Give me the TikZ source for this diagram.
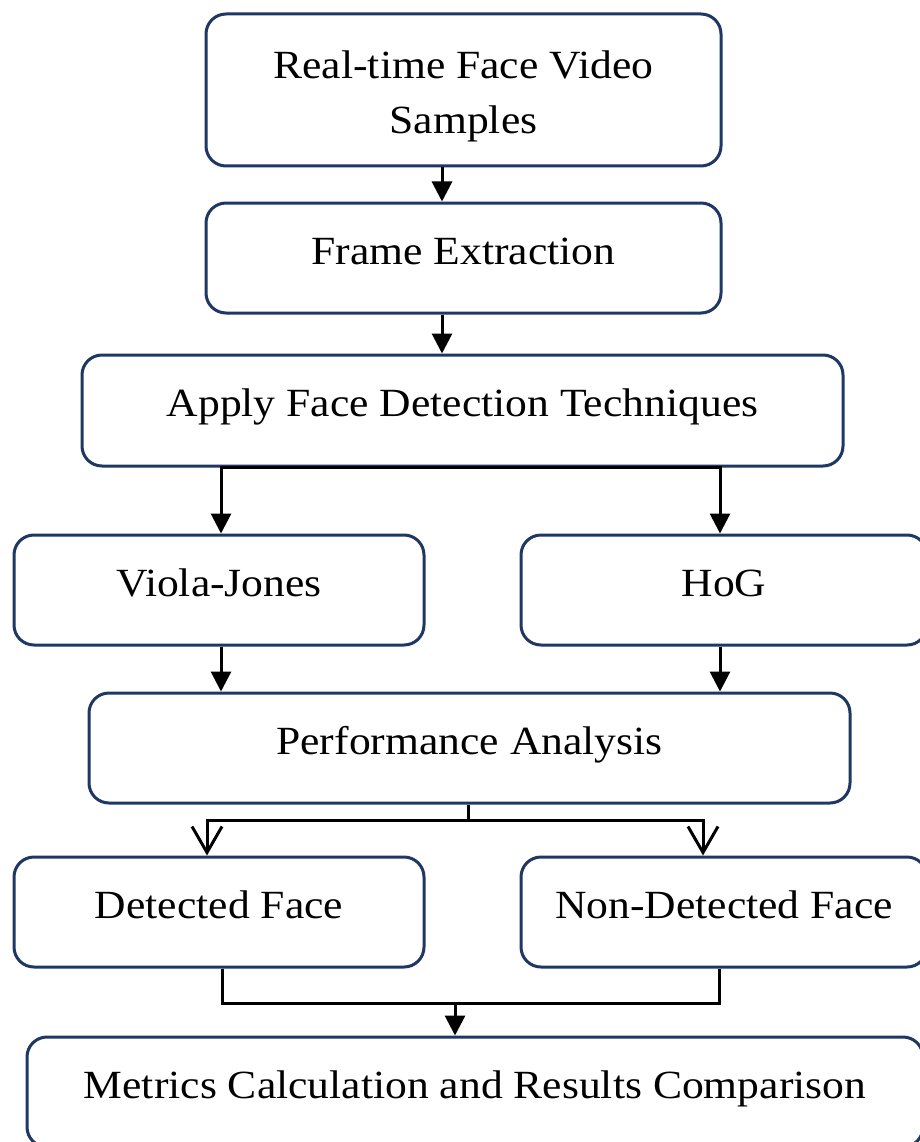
\documentclass[tikz,border=0pt]{standalone}
\usepackage{fontspec}
\setmainfont{Liberation Serif}[FakeStretch=1.09]
\usetikzlibrary{arrows.meta,calc}
\definecolor{boxline}{RGB}{31,55,99}
\begin{document}
\begin{tikzpicture}[x=1pt,y=-1pt,
  stage/.style={draw=boxline, line width=3pt, rounded corners=20pt, fill=white,
    align=center, inner sep=0pt, font=\fontsize{40}{55}\selectfont},
  oneline/.style={stage, text height=28pt, text depth=16pt},
  link/.style={line width=3pt, draw=black, line join=miter},
  tip/.style={link, -{Triangle[length=20pt,width=20pt]}},
  twotip/.style={link, {Triangle[length=20pt,width=20pt]}-{Triangle[length=20pt,width=20pt]}},
  twobarb/.style={link, {Straight Barb[length=26pt,width=30pt]}-{Straight Barb[length=26pt,width=30pt]}}]
\useasboundingbox (0,0) rectangle (920,1142);
\clip (0,0) rectangle (920,1142);
\fill[white] (0,0) rectangle (920,1142);

% stages of the pipeline
\node[stage, minimum width=515pt, minimum height=152pt] (src) at (463.5,90) {\rule{0pt}{40pt}Real-time Face Video\\Samples};
\node[oneline, minimum width=515pt, minimum height=110pt] (frames) at (463.5,258) {Frame Extraction};
\node[oneline, minimum width=761pt, minimum height=111pt] (apply) at (462.5,410.5) {Apply Face Detection Techniques};
\node[oneline, minimum width=410pt, minimum height=110pt] (vj) at (219,590) {Viola-Jones};
\node[oneline, minimum width=406pt, minimum height=110pt] (hog) at (724,590) {HoG};
\node[oneline, minimum width=761pt, minimum height=110pt] (perf) at (469.5,748) {Performance Analysis};
\node[oneline, minimum width=410pt, minimum height=110pt] (det) at (219,912) {Detected Face};
\node[oneline, minimum width=406pt, minimum height=110pt] (nondet) at (724,912) {Non-Detected Face};
\node[oneline, minimum width=896pt, minimum height=110pt] (metrics) at (475,1092) {Metrics Calculation and Results Comparison};

% straight flow at the top
\draw[tip] ([xshift=-21.5pt]src.south) -- ([xshift=-21.5pt]frames.north);
\draw[tip] ([xshift=-21.5pt]frames.south) -- ([xshift=-21.5pt]frames.south |- apply.north);

% split into the two detectors
\draw[twotip] ([xshift=2pt]vj.north) -- ([xshift=2pt]vj.north |- apply.south)
  -- ([xshift=-4pt]hog.north |- apply.south) -- ([xshift=-4pt]hog.north);

% both detectors feed the analysis
\draw[tip] ([xshift=2pt]vj.south) -- ([xshift=2pt]vj.south |- perf.north);
\draw[tip] ([xshift=-4pt]hog.south) -- ([xshift=-4pt]hog.south |- perf.north);

% analysis outcome
\draw[link] ([xshift=-1.5pt]perf.south) -- ++(0,16) coordinate (fork);
\draw[twobarb] ([xshift=-12pt]det.north) -- ([xshift=-12pt]det.north |- fork)
  -- ([xshift=-21pt]nondet.north |- fork) -- ([xshift=-21pt]nondet.north);

% results merge into the metrics stage
\coordinate (merge) at (455,1003);
\draw[link] ([xshift=3pt]det.south) |- (merge) -| ([xshift=-5pt]nondet.south);
\draw[tip] (merge) -- (merge |- metrics.north);
\end{tikzpicture}
\end{document}
